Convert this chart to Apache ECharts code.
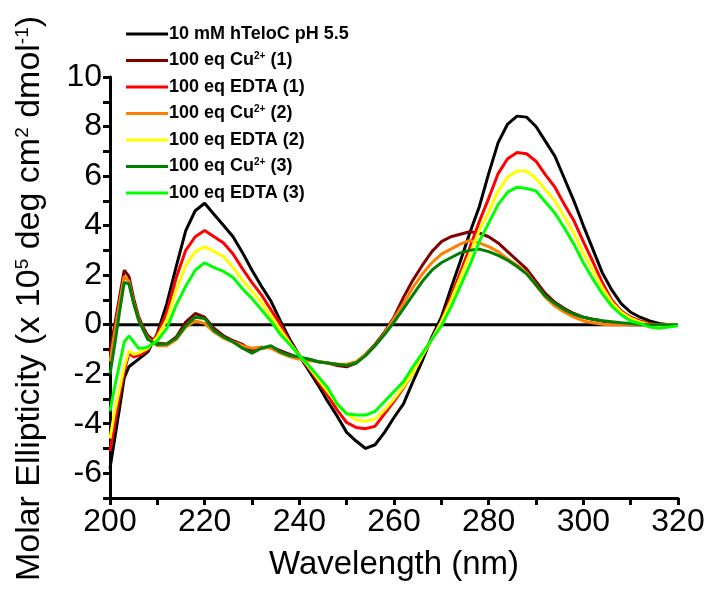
<!DOCTYPE html>
<html>
<head>
<meta charset="utf-8">
<script src="https://cdn.jsdelivr.net/npm/echarts@6/dist/echarts.min.js"></script>
<style>html,body{margin:0;padding:0;background:#fff}#c{width:710px;height:590px}</style>
</head>
<body>
<div id="c"></div>
<script>
var wavelengths = [200,201,202,203,204,205,206,207,208,
 210,212,214,216,218,220,222,224,226,228,230,232,234,236,238,240,242,244,246,248,250,
 252,254,256,258,260,262,264,266,268,270,272,274,276,278,280,282,284,286,288,290,
 292,294,296,298,300,302,304,306,308,310,312,314,316,318,320];

var seriesNames = ['10 mM hTeloC pH 5.5','100 eq Cu²⁺ (1)','100 eq EDTA (1)','100 eq Cu²⁺ (2)','100 eq EDTA (2)','100 eq Cu²⁺ (3)','100 eq EDTA (3)'];
var seriesColors = ['#000000','#800000','#ff0000','#ff8000','#ffff00','#008000','#00ff00'];

var hTeloC = [-5.8,-4.6,-3.4,-2.15,-1.7,-1.55,-1.4,-1.25,-1.1,
 -0.35,0.85,2.35,3.8,4.6,4.9,4.45,4.0,3.55,2.9,2.2,1.55,0.95,0.15,-0.6,-1.25,-1.85,-2.45,-3.1,-3.7,-4.35,
 -4.7,-5.0,-4.85,-4.35,-3.75,-3.2,-2.3,-1.45,-0.5,0.3,1.45,2.55,3.7,4.75,6.1,7.35,8.1,8.42,8.38,8.0,
 7.4,6.8,5.9,5.0,4.0,3.05,2.1,1.4,0.85,0.5,0.3,0.15,0.05,0.0,0.0];
var cu1 = [-1.1,0.0,1.1,2.2,1.95,1.05,0.35,-0.1,-0.45,
 -0.75,-0.78,-0.5,0.1,0.45,0.3,-0.15,-0.45,-0.65,-0.8,-1.05,-0.95,-0.9,-1.05,-1.2,-1.35,-1.4,-1.5,-1.55,-1.65,-1.7,
 -1.55,-1.2,-0.8,-0.3,0.3,1.1,1.8,2.4,2.95,3.35,3.55,3.65,3.75,3.7,3.55,3.3,2.95,2.6,2.25,1.75,
 1.25,0.9,0.65,0.45,0.3,0.22,0.15,0.08,0.02,0,0,0,0,0,0];
var edta1 = [-5.1,-4.0,-2.9,-1.9,-1.15,-1.3,-1.25,-1.15,-1.0,
 -0.4,0.5,1.9,3.0,3.55,3.8,3.55,3.3,2.85,2.25,1.7,1.2,0.6,0.0,-0.7,-1.25,-1.75,-2.3,-2.85,-3.45,-3.95,
 -4.15,-4.2,-4.1,-3.6,-3.1,-2.55,-1.95,-1.25,-0.6,0.15,1.1,2.1,3.1,4.15,5.1,6.1,6.7,6.95,6.9,6.6,
 6.05,5.55,4.85,4.2,3.35,2.55,1.7,1.0,0.55,0.3,0.15,0.05,0.0,0.0,0.0];
var cu2 = [-1.5,-0.3,0.85,1.95,1.75,0.9,0.25,-0.2,-0.55,
 -0.85,-0.85,-0.6,-0.1,0.15,0.05,-0.3,-0.55,-0.7,-0.85,-0.95,-0.9,-0.95,-1.15,-1.3,-1.4,-1.45,-1.5,-1.55,-1.6,-1.6,
 -1.5,-1.2,-0.85,-0.35,0.25,0.85,1.5,2.05,2.5,2.85,3.05,3.25,3.4,3.3,3.15,2.95,2.65,2.4,2.1,1.6,
 1.1,0.75,0.5,0.3,0.15,0.08,0.02,0,0,0,0,0,0,0,0];
var edta2 = [-4.6,-3.5,-2.6,-1.7,-1.05,-1.2,-1.15,-1.05,-0.95,
 -0.5,0.2,1.4,2.4,2.95,3.15,2.95,2.75,2.3,1.8,1.35,0.9,0.35,-0.2,-0.75,-1.25,-1.7,-2.2,-2.7,-3.2,-3.6,
 -3.85,-3.9,-3.8,-3.45,-3.0,-2.5,-1.95,-1.25,-0.6,0.1,0.95,1.9,2.85,3.8,4.55,5.4,5.95,6.2,6.2,5.9,
 5.45,5.0,4.35,3.7,2.9,2.2,1.5,0.9,0.5,0.25,0.1,0.0,-0.05,0.0,0.0];
var cu3 = [-2.0,-0.8,0.5,1.7,1.65,0.85,0.2,-0.2,-0.6,
 -0.8,-0.78,-0.55,-0.05,0.3,0.25,-0.25,-0.5,-0.7,-0.95,-1.15,-0.95,-0.85,-1.1,-1.25,-1.3,-1.4,-1.5,-1.55,-1.6,-1.65,
 -1.55,-1.25,-0.85,-0.4,0.1,0.65,1.2,1.75,2.2,2.5,2.7,2.9,3.0,3.05,2.95,2.8,2.6,2.35,2.05,1.6,
 1.15,0.85,0.6,0.42,0.3,0.22,0.16,0.12,0.08,0.05,0.02,0,0,0,0];
var edta3 = [-3.5,-2.5,-1.6,-0.7,-0.45,-0.7,-0.95,-0.95,-0.9,
 -0.65,-0.15,0.8,1.55,2.2,2.5,2.3,2.15,1.9,1.45,1.05,0.6,0.15,-0.4,-0.8,-1.25,-1.65,-2.1,-2.55,-3.2,-3.6,
 -3.65,-3.65,-3.5,-3.1,-2.7,-2.3,-1.7,-1.15,-0.6,-0.05,0.7,1.55,2.4,3.35,4.1,4.85,5.35,5.55,5.5,5.4,
 4.95,4.5,3.9,3.25,2.5,1.85,1.25,0.75,0.4,0.15,0.05,-0.1,-0.15,-0.1,-0.05];

var allValues = [hTeloC, cu1, edta1, cu2, edta2, cu3, edta3];
var baseline = [[200,0],[320,0]];

var FONT = 'Liberation Sans, Arial, sans-serif';
var chart = echarts.init(document.getElementById('c'), null, {renderer:'canvas'});

var series = [{
  name: 'baseline', type: 'line', data: baseline, symbol: 'none', silent: true,
  lineStyle: {color: '#000', width: 3}, z: 1
}];
allValues.forEach(function(vals, k){
  series.push({
    name: seriesNames[k], type: 'line', symbol: 'none', showSymbol: false,
    data: wavelengths.map(function(w,i){ return [w, vals[i]]; }),
    lineStyle: {color: seriesColors[k], width: 3}, itemStyle: {color: seriesColors[k]},
    z: 2 + k
  });
});

chart.setOption({
  animation: false,
  backgroundColor: '#fff',
  grid: {left: 110, right: 32, top: 77, bottom: 92},
  legend: {
    data: seriesNames, orient: 'vertical', left: 121, top: 20,
    itemWidth: 42, itemHeight: 17, itemGap: 8.5, icon: 'path://M0,0 L42,0 L42,3 L0,3 Z',
    formatter: function(n){ return n.replace('²⁺', '{sup|2+}'); },
    textStyle: {fontFamily: FONT, fontWeight: 'bold', fontSize: 18, color: '#000', padding: [0,0,0,-4],
      rich: {sup: {fontFamily: FONT, fontWeight: 'bold', fontSize: 10, color: '#000', verticalAlign: 'top', lineHeight: 17}}}
  },
  xAxis: {
    type: 'value', min: 200, max: 320, interval: 10,
    name: 'Wavelength (nm)', nameLocation: 'middle', nameGap: 50,
    nameTextStyle: {fontFamily: FONT, fontSize: 33, color: '#000'},
    axisLine: {onZero: false, lineStyle: {color: '#000', width: 3}},
    axisTick: {inside: false, length: 7, lineStyle: {color: '#000', width: 3}},
    axisLabel: {margin: 8, fontFamily: FONT, fontSize: 32, color: '#000',
      formatter: function(v){ return v % 20 === 0 ? String(v) : ''; }},
    splitLine: {show: false}
  },
  yAxis: {
    type: 'value', min: -7, max: 10, interval: 1,
    name: 'Molar Ellipticity (x 10{sup|5} deg cm{sup|2} dmol{sup|-1})',
    nameLocation: 'middle', nameRotate: 90, nameGap: 63,
    nameTextStyle: {fontFamily: FONT, fontSize: 34, color: '#000', padding: [0, 22, 0, 0],
      rich: {sup: {fontFamily: FONT, fontSize: 19, color: '#000', verticalAlign: 'top', lineHeight: 34}}},
    axisLine: {onZero: false, lineStyle: {color: '#000', width: 3}},
    axisTick: {inside: false, length: 7, lineStyle: {color: '#000', width: 3}},
    axisLabel: {margin: 8, fontFamily: FONT, fontSize: 32, color: '#000',
      formatter: function(v){ return (v % 2 === 0) ? String(v) : ''; }},
    splitLine: {show: false}
  },
  series: series
});
</script>
</body>
</html>
